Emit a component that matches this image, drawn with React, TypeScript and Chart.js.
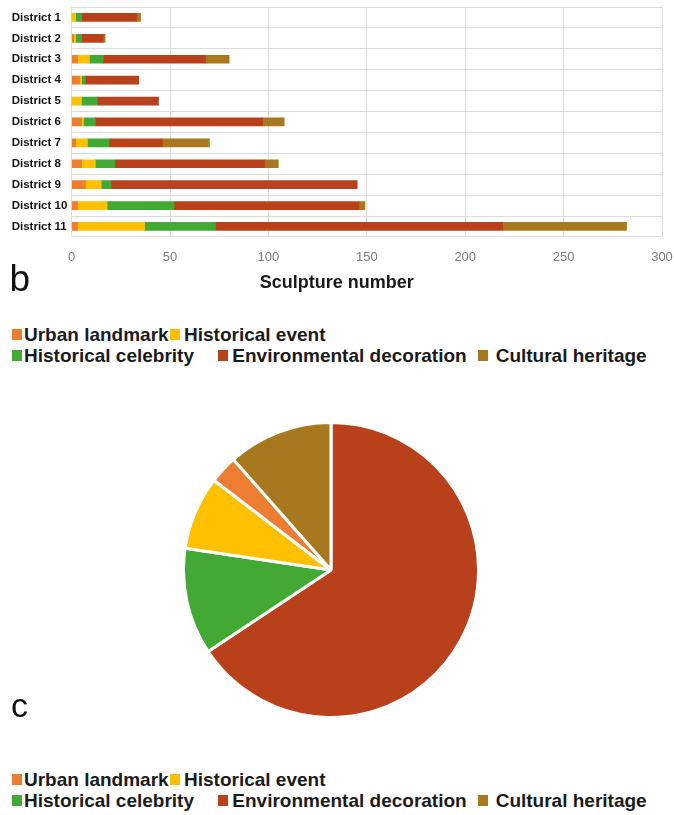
import React, { useEffect, useRef } from "react";
import { Chart, registerables } from "chart.js";

Chart.register(...registerables);

const districts = [
  "District 1", "District 2", "District 3", "District 4", "District 5", "District 6",
  "District 7", "District 8", "District 9", "District 10", "District 11",
];
const categoryNames = [
  "Urban landmark", "Historical event", "Historical celebrity",
  "Environmental decoration", "Cultural heritage",
];
const urbanLandmark = [0, 1, 3, 4, 0, 5, 2, 5, 7, 3, 3];
const historicalEvent = [2, 1, 6, 1, 5, 1, 6, 7, 8, 15, 34];
const historicalCelebrity = [3, 3, 7, 2, 8, 6, 11, 10, 5, 34, 36];
const environmentalDecoration = [28, 11, 52, 27, 31, 85, 27, 76, 125, 94, 146];
const culturalHeritage = [2, 1, 12, 0, 0, 11, 24, 7, 0, 3, 63];
const xTickValues = [0, 50, 100, 150, 200, 250, 300];
const categoryColors = ["#ED7D31", "#FFC000", "#43A935", "#B8401A", "#A8781E"];
// pie slices go clockwise from 12 o'clock in this category order
const pieOrder = [3, 2, 1, 0, 4];

const series = [urbanLandmark, historicalEvent, historicalCelebrity, environmentalDecoration, culturalHeritage];
const FONT = "'Liberation Sans', Arial, sans-serif";

function BarChart() {
  const ref = useRef<HTMLCanvasElement>(null);
  useEffect(() => {
    const chart = new Chart(ref.current!, {
      type: "bar",
      data: {
        labels: districts,
        datasets: series.map((s, i) => ({
          label: categoryNames[i],
          data: s,
          backgroundColor: categoryColors[i],
          borderWidth: 0,
          barThickness: 8,
        })),
      },
      options: {
        indexAxis: "y",
        responsive: false,
        animation: false,
        layout: { padding: { left: 11.7, right: 12, top: 7, bottom: 0 } },
        plugins: {
          legend: { display: false },
          tooltip: { enabled: false },
          title: {
            display: true,
            text: "Sculpture number",
            position: "bottom",
            color: "#1a1a1a",
            font: { family: FONT, size: 18, weight: "bold" },
            padding: { top: 0, bottom: 6 },
          },
        },
        scales: {
          x: {
            stacked: true,
            min: xTickValues[0],
            max: xTickValues[xTickValues.length - 1],
            afterBuildTicks: (s: any) => {
              s.ticks = xTickValues.map((v) => ({ value: v }));
            },
            ticks: { color: "#7a7a7a", padding: 13, font: { family: FONT, size: 13 } },
            grid: { color: "#dcdcdc", drawTicks: false },
            border: { display: false },
            afterFit: (s: any) => {
              s.height = 35.5;
              s.paddingRight = 0;
              s.paddingLeft = 0;
            },
          },
          y: {
            stacked: true,
            ticks: { crossAlign: "far", color: "#111", font: { family: FONT, size: 11.5, weight: "bold" } },
            grid: { color: "#dcdcdc", drawTicks: false, offset: true },
            border: { display: false },
            afterFit: (s: any) => {
              s.width = 60;
              s.paddingTop = 0;
              s.paddingBottom = 0;
            },
          },
        },
      },
    } as any);
    return () => chart.destroy();
  }, []);
  return (
    <canvas
      ref={ref}
      width={674}
      height={300}
      style={{ position: "absolute", left: 0, top: 0, width: 674, height: 300 }}
    />
  );
}

function PieChart() {
  const ref = useRef<HTMLCanvasElement>(null);
  useEffect(() => {
    const totals = series.map((s) => s.reduce((a, b) => a + b, 0));
    const chart = new Chart(ref.current!, {
      type: "pie",
      data: {
        labels: pieOrder.map((i) => categoryNames[i]),
        datasets: [
          {
            data: pieOrder.map((i) => totals[i]),
            backgroundColor: pieOrder.map((i) => categoryColors[i]),
            borderColor: "#ffffff",
            borderWidth: 3,
          },
        ],
      },
      options: {
        responsive: false,
        animation: false,
        layout: { padding: 0 },
        plugins: { legend: { display: false }, tooltip: { enabled: false } },
      },
    } as any);
    return () => chart.destroy();
  }, []);
  return (
    <canvas
      ref={ref}
      width={298}
      height={298}
      style={{ position: "absolute", left: 181.5, top: 421.3, width: 298, height: 298 }}
    />
  );
}

const legendItems = [
  { idx: 0, line: 0, sq: 11.7, tx: 24 },
  { idx: 1, line: 0, sq: 170, tx: 184 },
  { idx: 2, line: 1, sq: 12, tx: 24 },
  { idx: 3, line: 1, sq: 218.3, tx: 232.3 },
  { idx: 4, line: 1, sq: 478.3, tx: 495.7 },
];

function Legend({ baselines }: { baselines: number[] }) {
  return (
    <>
      {legendItems.map((it) => {
        const b = baselines[it.line];
        return (
          <React.Fragment key={it.idx}>
            <div
              style={{
                position: "absolute",
                left: it.sq,
                top: b - 12.5,
                width: 10,
                height: 11,
                background: categoryColors[it.idx],
              }}
            />
            <div
              style={{
                position: "absolute",
                left: it.tx,
                top: b - 16.1,
                fontFamily: FONT,
                fontWeight: "bold",
                fontSize: 19,
                lineHeight: "19px",
                color: "#1a1a1a",
                whiteSpace: "nowrap",
              }}
            >
              {categoryNames[it.idx]}
            </div>
          </React.Fragment>
        );
      })}
    </>
  );
}

export default function App() {
  return (
    <div style={{ position: "absolute", left: 0, top: 0, width: 674, height: 815, background: "#fff", overflow: "hidden" }}>
      <BarChart />
      <div
        style={{
          position: "absolute",
          left: 9.5,
          top: 260.3,
          fontFamily: FONT,
          fontSize: 37,
          lineHeight: "37px",
          color: "#111",
        }}
      >
        b
      </div>
      <Legend baselines={[341.5, 362]} />
      <PieChart />
      <div
        style={{
          position: "absolute",
          left: 11,
          top: 716.7 - 29,
          fontFamily: FONT,
          fontSize: 34,
          lineHeight: "34px",
          color: "#111",
        }}
      >
        c
      </div>
      <Legend baselines={[786.5, 807.3]} />
    </div>
  );
}
